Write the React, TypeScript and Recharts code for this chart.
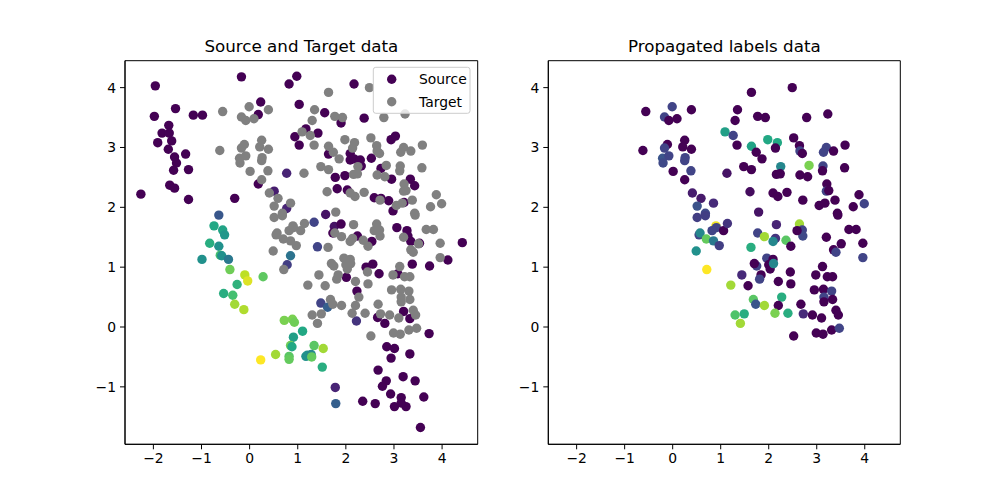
import { ScatterChart, Scatter, XAxis, YAxis, ReferenceArea } from "recharts";

// [x, y, label] – labelled source samples
const source: [number, number, number][] = [
  [-2.26, 2.22, 0], [-1.96, 4.03, 0], [-1.98, 3.52, 0], [-1.54, 3.65, 0], [-1.17, 3.54, 0],
  [-0.98, 3.54, 0], [-1.68, 3.37, 0], [-1.82, 3.24, 0], [-1.67, 3.24, 0], [-1.91, 3.08, 0],
  [-1.62, 3.11, 0], [-1.69, 2.97, 0], [-1.33, 2.89, 0], [-1.56, 2.84, 0], [-1.52, 2.74, 0],
  [-1.27, 2.63, 0], [-1.58, 2.62, 0], [-1.66, 2.37, 0], [-1.56, 2.32, 0], [-1.27, 2.13, 0],
  [-0.31, 2.15, 0], [-0.17, 4.18, 0], [0.98, 4.19, 0], [0.82, 4.06, 0], [0.23, 3.76, 0],
  [0.18, 3.55, 0], [1.03, 3.72, 0], [0.94, 3.18, 0], [1.03, 3.04, 0], [0.77, 2.57, 0.1],
  [0.18, 2.39, 0], [0.51, 2.27, 0.08], [0.77, 1.98, 0.1],
  [-0.64, 1.87, 0.27], [-0.74, 1.69, 0.6], [-0.56, 1.62, 0.58], [-0.52, 1.54, 0.52],
  [-0.83, 1.4, 0.62], [-0.64, 1.35, 0.5], [-0.61, 1.2, 0.7], [-0.58, 1.19, 0.5],
  [-0.99, 1.13, 0.5], [-0.44, 1.13, 0.4], [-0.41, 0.96, 0.78], [-0.1, 0.87, 0.9],
  [-0.04, 0.77, 0.95], [0.28, 0.84, 0.75], [-0.26, 0.71, 0.64], [-0.54, 0.56, 0.62],
  [-0.35, 0.53, 0.7], [-0.31, 0.38, 0.86], [-0.12, 0.29, 0.88], [0.72, 0.11, 0.8],
  [0.89, 0.13, 0.8], [0.93, 0.08, 0.78], [1.1, -0.07, 0.6], [0.91, -0.17, 0.56],
  [0.85, -0.31, 0.78], [0.88, -0.33, 0.6], [0.54, -0.46, 0.86], [0.82, -0.49, 0.74],
  [0.82, -0.54, 0.76], [0.23, -0.55, 1.0], [1.17, -0.49, 0.5], [0.85, 1.19, 0.38],
  [0.78, 1.04, 0.18],
  [1.48, 0.4, 0.2], [1.62, 0.33, 0.3], [1.34, -0.31, 0.74], [1.53, -0.36, 0.86],
  [1.2, -0.47, 0.5], [1.28, -0.46, 0.46], [1.29, -0.5, 0.76], [1.51, -0.67, 0.62],
  [1.78, -1.01, 0.1], [1.79, -1.28, 0.3], [2.22, 0.1, 0.15],
  [2.35, -1.24, 0], [2.61, -1.28, 0], [2.23, 0.6, 0], [2.01, 0.83, 0], [2.42, 1.0, 0],
  [2.56, 1.05, 0], [2.69, 0.89, 0], [3.08, 0.89, 0], [3.38, 1.05, 0], [3.74, 1.02, 0],
  [4.12, 1.12, 0], [2.66, 0.16, 0], [2.81, 0.06, 0], [3.2, 0.26, 0], [3.33, 0.14, 0],
  [3.73, -0.11, 0], [2.85, -0.33, 0], [3.01, -0.36, 0], [2.94, -0.52, 0], [3.33, -0.45, 0],
  [2.67, -0.72, 0], [2.84, -0.9, 0], [2.76, -0.99, 0], [3.19, -0.83, 0], [3.44, -0.9, 0],
  [2.93, -1.12, 0], [3.15, -1.18, 0], [3.01, -1.33, 0], [3.25, -1.33, 0], [3.62, -1.17, 0],
  [3.55, -1.68, 0], [3.15, -1.27, 0],
  [2.17, 4.06, 0], [2.38, 3.49, 0], [1.9, 3.41, 0], [1.56, 3.58, 0], [1.42, 3.24, 0],
  [1.17, 3.31, 0], [2.94, 3.13, 0], [3.03, 3.19, 0], [1.64, 2.89, 0], [2.09, 2.9, 0],
  [2.09, 2.79, 0], [2.17, 2.81, 0], [2.3, 2.79, 0], [2.32, 2.69, 0], [2.53, 2.82, 0],
  [2.73, 2.65, 0], [2.95, 2.47, 0], [3.34, 2.47, 0], [3.43, 2.36, 0], [1.78, 2.5, 0],
  [1.98, 2.53, 0], [1.82, 2.31, 0], [2.03, 2.29, 0], [2.59, 2.16, 0], [2.73, 2.15, 0],
  [2.89, 2.11, 0], [2.98, 1.94, 0], [3.21, 2.08, 0], [1.58, 1.88, 0.05], [1.34, 1.75, 0.2],
  [1.76, 1.68, 0.05], [1.9, 1.72, 0], [1.73, 1.57, 0], [2.24, 1.52, 0], [2.54, 1.43, 0],
  [3.06, 1.66, 0], [3.27, 1.61, 0], [3.29, 1.52, 0], [3.35, 1.43, 0], [3.53, 1.4, 0],
  [4.42, 1.41, 0], [1.41, 1.34, 0.2],
];

// [x, y, propagated label] – unlabelled target samples
const target: [number, number, number][] = [
  [-0.56, 3.6, 0], [-0.01, 3.68, 0.2], [-0.17, 3.51, 0.2], [-0.08, 3.45, 0], [0.09, 3.48, 0],
  [0.39, 3.63, 0], [-0.62, 2.95, 0], [-0.11, 3.05, 0], [0.25, 3.12, 0], [0.21, 3.01, 0],
  [0.39, 2.97, 0], [-0.17, 2.99, 0.2], [-0.21, 2.82, 0.26], [-0.08, 2.86, 0.2], [-0.2, 2.74, 0.22],
  [0.26, 2.83, 0.2], [0.25, 2.78, 0.2], [0.01, 2.6, 0], [0.38, 2.61, 0.2], [0.25, 2.46, 0],
  [0.41, 2.24, 0.08], [0.59, 2.15, 0.07], [0.85, 2.07, 0.12], [0.51, 2.02, 0.25], [0.68, 1.9, 0.22],
  [1.09, 3.26, 0.56], [1.26, 3.2, 0.2], [1.35, 3.63, 0], [1.3, 3.45, 0], [1.34, 3.04, 0],
  [1.64, 3.02, 0.58], [1.64, 3.92, 0], [1.13, 2.57, 0.05], [1.48, 2.68, 0], [1.64, 2.63, 0],
  [1.61, 2.26, 0.03], [2.49, 4.0, 0], [1.77, 3.52, 0], [1.93, 3.5, 0], [2.79, 3.5, 0],
  [3.23, 3.56, 0], [1.98, 3.13, 0.6], [2.18, 3.08, 0.6], [1.74, 2.92, 0], [1.86, 2.81, 0],
  [2.14, 2.99, 0], [2.52, 3.16, 0], [2.64, 3.03, 0], [2.65, 2.94, 0.2], [2.7, 2.9, 0],
  [3.2, 3.0, 0.2], [3.14, 2.92, 0.2], [3.35, 2.94, 0], [3.59, 3.04, 0], [2.25, 2.68, 0.46],
  [2.84, 2.7, 0.8], [3.13, 2.69, 0.2], [3.12, 2.61, 0], [3.58, 2.66, 0], [2.16, 2.55, 0],
  [2.24, 2.56, 0], [2.65, 2.54, 0], [2.81, 2.51, 0], [3.21, 2.39, 0], [3.2, 2.27, 0.2],
  [3.25, 2.28, 0], [2.09, 2.24, 0], [2.19, 2.18, 0], [2.38, 2.25, 0], [2.71, 2.12, 0],
  [3.38, 2.12, 0], [3.05, 2.03, 0], [3.17, 2.07, 0], [3.88, 2.21, 0], [3.76, 2.01, 0],
  [3.99, 2.06, 0.2], [1.79, 1.92, 0.05], [3.43, 1.9, 0],
  [0.51, 1.83, 0.18], [0.68, 1.86, 0.18], [0.9, 1.69, 0.98], [0.91, 1.66, 0.2], [0.82, 1.61, 0.2],
  [1.06, 1.61, 0], [1.14, 1.73, 0.15], [0.55, 1.54, 0.2], [0.57, 1.57, 0.46], [0.7, 1.47, 0.76],
  [0.85, 1.44, 0.4], [0.97, 1.36, 0.18], [0.49, 1.27, 0.5], [0.71, 0.96, 1.0], [1.21, 0.7, 0.86],
  [1.44, 0.87, 0.12], [1.57, 0.69, 0], [1.63, 1.33, 0.62], [1.3, 0.2, 0.72], [1.49, 0.22, 0.62],
  [1.41, 0.06, 0.86],
  [3.44, 1.87, 0], [2.16, 1.71, 0.1], [2.64, 1.72, 0.86], [2.7, 1.62, 0.2], [2.71, 1.52, 0.22],
  [2.59, 1.61, 0], [1.77, 1.57, 0.2], [1.91, 1.51, 0.86], [2.14, 1.48, 0.15], [2.09, 1.43, 0.46],
  [2.36, 1.45, 0.74], [2.46, 1.35, 0], [3.2, 1.5, 0], [3.67, 1.63, 0], [3.82, 1.63, 0],
  [3.96, 1.4, 0], [3.51, 1.39, 0], [3.35, 1.29, 0], [3.4, 1.25, 0.2], [3.96, 1.16, 0.2],
  [1.96, 1.15, 0.2], [2.09, 1.13, 0], [2.0, 1.04, 0], [2.03, 0.97, 0], [2.1, 1.06, 0.46],
  [1.75, 1.02, 0.2], [1.7, 1.06, 0], [1.84, 0.87, 0], [1.81, 0.8, 0.2], [2.2, 0.76, 0],
  [2.46, 0.72, 0], [2.45, 0.92, 0], [3.12, 1.01, 0], [2.98, 0.87, 0], [3.22, 0.84, 0],
  [3.33, 0.84, 0], [2.95, 0.62, 0], [3.14, 0.63, 0], [3.31, 0.6, 0.2], [3.15, 0.5, 0.2],
  [3.15, 0.42, 0], [3.33, 0.46, 0], [3.4, 0.28, 0], [3.45, 0.2, 0], [1.68, 0.46, 0.74],
  [1.73, 0.38, 0.26], [1.91, 0.36, 0.86], [2.27, 0.5, 0.62], [2.2, 0.36, 0], [2.13, 0.23, 0.8],
  [2.4, 0.23, 0.62], [2.67, 0.38, 0], [2.72, 0.22, 0.12], [2.91, 0.2, 0], [3.1, 0.15, 0],
  [2.52, -0.15, 0], [2.99, -0.1, 0], [3.13, -0.12, 0], [3.31, -0.05, 0], [3.47, -0.02, 0.2],
];

const xTicks = [-2, -1, 0, 1, 2, 3, 4];
const yTicks = [-1, 0, 1, 2, 3, 4];
const X_DOMAIN: [number, number] = [-2.59, 4.74];
const Y_DOMAIN: [number, number] = [-1.96, 4.45];

const VIRIDIS = [
  "#440154", "#482475", "#414487", "#355f8d", "#2a788e", "#21918c",
  "#22a884", "#44bf70", "#7ad151", "#bddf26", "#fde725",
];

function viridis(t: number) {
  const v = Math.max(0, Math.min(1, t)) * 10;
  const i = Math.min(9, Math.floor(v));
  const f = v - i;
  const a = VIRIDIS[i], b = VIRIDIS[i + 1];
  const ch = (h: string, k: number) => parseInt(h.slice(1 + k * 2, 3 + k * 2), 16);
  const rgb = [0, 1, 2].map((k) => Math.round(ch(a, k) + (ch(b, k) - ch(a, k)) * f));
  return `rgb(${rgb.join(",")})`;
}

const FONT = "'DejaVu Sans', sans-serif";
const GRAY = "#808080";
const R = 4.7;

const toPoints = (rows: [number, number, number][]) =>
  rows.map(([x, y, label]) => ({ x, y, label }));

const minus = (v: number) => String(v).replace("-", "\u2212");

const colorDot = (props: any) => (
  <circle cx={props.cx} cy={props.cy} r={R} fill={viridis(props.payload.label)} />
);
const grayDot = (props: any) => <circle cx={props.cx} cy={props.cy} r={R} fill={GRAY} />;

const Panel = ({ left, marginLeft, marginRight, children }: any) => (
  <div style={{ position: "absolute", left, top: 0 }}>
    <ScatterChart
      width={500}
      height={500}
      margin={{ top: 60.7, right: marginRight, bottom: 25.7, left: marginLeft }}
    >
      <XAxis
        type="number"
        dataKey="x"
        domain={X_DOMAIN}
        ticks={xTicks}
        allowDataOverflow
        height={30}
        tickSize={5}
        tickMargin={4}
        tickFormatter={minus}
        stroke="#000"
        tick={{ fill: "#000", fontSize: 13.9, fontFamily: FONT }}
      />
      <YAxis
        type="number"
        dataKey="y"
        domain={Y_DOMAIN}
        ticks={yTicks}
        allowDataOverflow
        width={30}
        tickSize={5}
        tickMargin={4}
        tickFormatter={minus}
        stroke="#000"
        tick={{ fill: "#000", fontSize: 13.9, fontFamily: FONT }}
      />
      {children}
      <ReferenceArea
        x1={X_DOMAIN[0]}
        x2={X_DOMAIN[1]}
        y1={Y_DOMAIN[0]}
        y2={Y_DOMAIN[1]}
        fill="none"
        stroke="#000"
        strokeWidth={1}
      />
    </ScatterChart>
  </div>
);

const Title = ({ center, text }: { center: number; text: string }) => (
  <div
    style={{
      position: "absolute",
      left: center - 200,
      width: 400,
      top: 38,
      textAlign: "center",
      fontFamily: FONT,
      fontSize: 16.7,
      lineHeight: 1,
      color: "#000",
    }}
  >
    {text}
  </div>
);

const App = () => {
  const sourcePts = toPoints(source);
  const targetPts = toPoints(target);
  return (
    <div style={{ position: "absolute", left: 0, top: 0, width: 1000, height: 500, background: "#fff" }}>
      <Panel left={0} marginLeft={95} marginRight={22.3}>
        <Scatter name="Source" data={sourcePts} fill={VIRIDIS[0]} shape={colorDot} isAnimationActive={false} />
        <Scatter name="Target" data={targetPts} fill={GRAY} shape={grayDot} isAnimationActive={false} />
      </Panel>
      <Panel left={500} marginLeft={18.3} marginRight={99.7}>
        <Scatter name="Propagated" data={targetPts} shape={colorDot} isAnimationActive={false} />
      </Panel>
      <Title center={301.4} text="Source and Target data" />
      <Title center={724.3} text="Propagated labels data" />
      <svg
        width={100}
        height={50}
        style={{ position: "absolute", left: 372, top: 66 }}
      >
        <rect x={1.3} y={1.3} width={96.7} height={46} rx={2.5} fill="rgba(255,255,255,0.8)" stroke="#cccccc" strokeWidth={1} />
        <circle cx={19.7} cy={13.3} r={R} fill={VIRIDIS[0]} />
        <circle cx={19.7} cy={35.7} r={R} fill={GRAY} />
        <text x={47} y={18.3} fontFamily={FONT} fontSize={13.9} fill="#000">Source</text>
        <text x={47} y={40.5} fontFamily={FONT} fontSize={13.9} fill="#000">Target</text>
      </svg>
    </div>
  );
};

export default App;
